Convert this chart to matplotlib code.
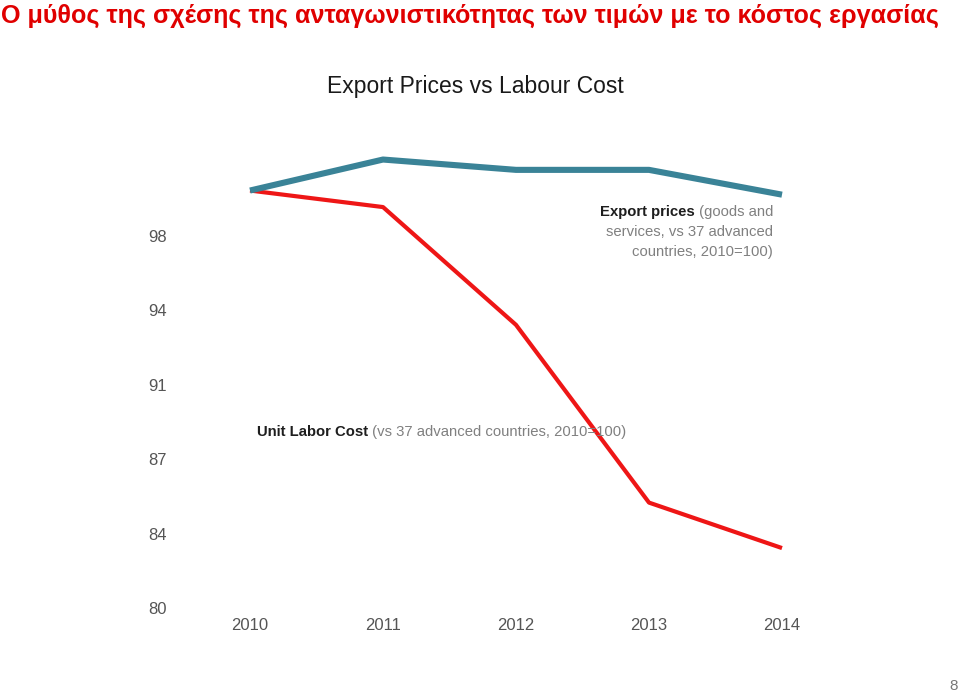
import numpy as np
import matplotlib
matplotlib.use("Agg")
import matplotlib.pyplot as plt
from matplotlib.offsetbox import TextArea, HPacker, VPacker, AnnotationBbox

plt.rcParams['font.family'] = ['Liberation Sans', 'DejaVu Sans']

# dane
lata = [2010, 2011, 2012, 2013, 2014]
ceny_eksportu = [100.2, 101.7, 101.2, 101.2, 100.0]
koszt_pracy = [100.2, 99.4, 93.7, 85.1, 82.9]
y_ticki = np.linspace(80, 98, 6)
y_etykiety = ['80', '84', '87', '91', '94', '98']

TYTUL = "Ο μύθος της σχέσης της ανταγωνιστικότητας των τιμών με το κόστος εργασίας"

W, H = 960, 694
fig = plt.figure(figsize=(W / 100, H / 100), dpi=100)
fig.patch.set_facecolor('white')

# osie: 2010 -> px 250, 2014 -> px 782, 80 -> py 608, 98 -> py 236
px_rok = 133.0
px_jedn = 372.0 / 18
ax_l, ax_r, ax_t, ax_b = 178, 800, 150, 608
ax = fig.add_axes([ax_l / W, (H - ax_b) / H, (ax_r - ax_l) / W, (ax_b - ax_t) / H])
ax.set_xlim(2010 - (250 - ax_l) / px_rok, 2014 + (ax_r - 782) / px_rok)
ax.set_ylim(80, 98 + (236 - ax_t) / px_jedn)

ax.plot(lata, ceny_eksportu, color='#3a8397', lw=4.4, solid_capstyle='butt', zorder=3)
ax.plot(lata, koszt_pracy, color='#ee1616', lw=3.0, solid_capstyle='butt', zorder=2)

for s in ax.spines.values():
    s.set_visible(False)
ax.set_xticks(lata)
ax.set_xticklabels([str(r) for r in lata])
ax.set_yticks(y_ticki)
ax.set_yticklabels(y_etykiety)
ax.tick_params(length=0, labelsize=12, colors='#555555')
ax.tick_params(axis='x', pad=7)
ax.tick_params(axis='y', pad=8)

# tytul slajdu
fig.text(1 / W, 1 - 16 / H, TYTUL, color='#e00000', fontsize=18.1, fontweight='bold',
         ha='left', va='center')
fig.text(475 / W, 1 - 87 / H, "Export Prices vs Labour Cost", color='#1a1a1a',
         fontsize=16.5, fontweight='medium', ha='center', va='center')
fig.text(958 / W, 1 - 686 / H, "8", color='#777777', fontsize=11, ha='right', va='center')

# opisy serii
szary = dict(color='#808080', fontsize=10.75)
ciemny = dict(color='#1e1e1e', fontsize=10.75, fontweight='bold')

wiersz1 = HPacker(children=[TextArea("Export prices", textprops=ciemny),
                            TextArea(" (goods and", textprops=szary)], pad=0, sep=0)
blok = VPacker(children=[wiersz1,
                         TextArea("services, vs 37 advanced", textprops=szary),
                         TextArea("countries, 2010=100)", textprops=szary)],
               align='right', pad=0, sep=4)
ab = AnnotationBbox(blok, (773 / W, 1 - 232 / H), xycoords='figure fraction',
                    box_alignment=(1, 0.5), frameon=False)
fig.add_artist(ab)

wiersz2 = HPacker(children=[TextArea("Unit Labor Cost", textprops=ciemny),
                            TextArea(" (vs 37 advanced countries, 2010=100)", textprops=szary)],
                  pad=0, sep=0)
ab2 = AnnotationBbox(wiersz2, (257 / W, 1 - 432 / H), xycoords='figure fraction',
                     box_alignment=(0, 0.5), frameon=False)
fig.add_artist(ab2)

fig.savefig('out.png', dpi=100)
